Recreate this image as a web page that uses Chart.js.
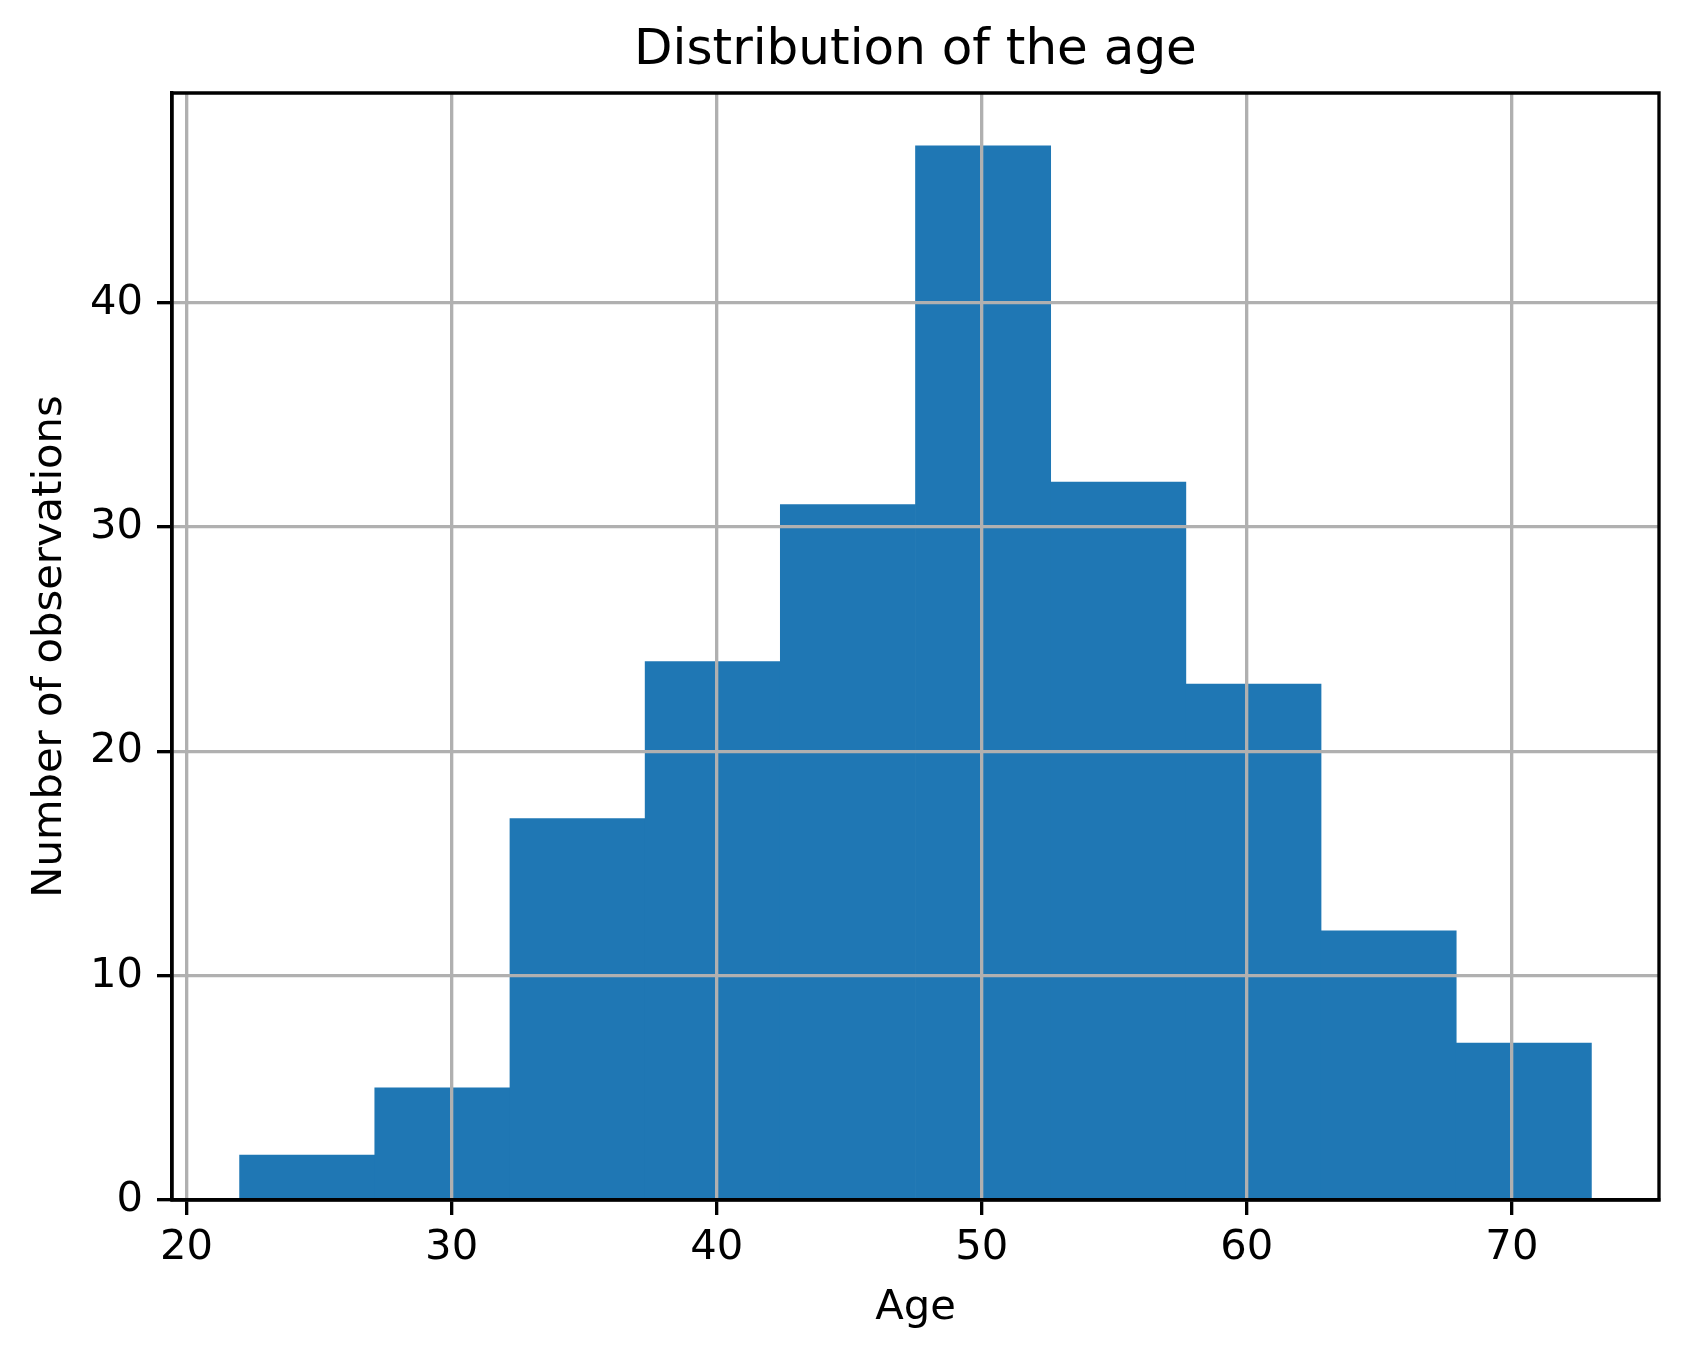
<!DOCTYPE html>
<html>
<head>
<meta charset="utf-8">
<script src="https://cdn.jsdelivr.net/npm/chart.js@4"></script>
<style>
  html, body { margin: 0; padding: 0; background: #ffffff; }
  #wrap { width: 1688px; height: 1361px; }
  canvas { display: block; }
</style>
</head>
<body>
<div id="wrap"><canvas id="c" width="1688" height="1361"></canvas></div>
<script>
// ---- data ----
const binEdges = [22, 27.1, 32.2, 37.3, 42.4, 47.5, 52.6, 57.7, 62.8, 67.9, 73];
const counts   = [2, 5, 17, 24, 31, 47, 32, 23, 12, 7];
const xTicks   = [20, 30, 40, 50, 60, 70];
const yTicks   = [0, 10, 20, 30, 40];
const titleText  = "Distribution of the age";
const xAxisLabel = "Age";
const yAxisLabel = "Number of observations";

// axis limits like matplotlib's 5% margins
const span = binEdges[binEdges.length - 1] - binEdges[0];
const xMin = binEdges[0] - 0.05 * span;
const xMax = binEdges[binEdges.length - 1] + 0.05 * span;
const yMax = Math.max(...counts) * 1.05;

const points = counts.map((c, i) => ({ x: (binEdges[i] + binEdges[i + 1]) / 2, y: c }));

const FONT = "DejaVu Sans";
const LW = 3.33;

const framePlugin = {
  id: 'frame',
  afterDraw(chart) {
    const { ctx, chartArea: a } = chart;
    ctx.save();
    ctx.strokeStyle = '#000';
    ctx.lineWidth = LW;
    ctx.lineCap = 'square';
    ctx.beginPath();
    ctx.moveTo(a.left, a.top);
    ctx.lineTo(a.right, a.top);
    ctx.lineTo(a.right, a.bottom);
    ctx.moveTo(a.left, a.top);
    ctx.lineTo(a.left, a.bottom);
    ctx.lineTo(a.right, a.bottom);
    ctx.stroke();
    ctx.restore();
  }
};

new Chart(document.getElementById('c'), {
  type: 'bar',
  data: {
    datasets: [{
      data: points,
      backgroundColor: '#1f77b4',
      borderWidth: 0,
      barPercentage: 1.0,
      categoryPercentage: 1.0,
      grouped: false
    }]
  },
  options: {
    responsive: false,
    animation: false,
    devicePixelRatio: 1,
    layout: { padding: { left: 0, right: 29, top: 0, bottom: 0 } },
    plugins: {
      legend: { display: false },
      tooltip: { enabled: false },
      title: {
        display: true,
        fullSize: false,
        text: titleText,
        color: '#000',
        font: { family: FONT, size: 50, weight: 'normal' },
        padding: { top: 21, bottom: 12 }
      }
    },
    scales: {
      x: {
        type: 'linear',
        position: 'bottom',
        min: xMin,
        max: xMax,
        offset: false,
        afterBuildTicks: s => { s.ticks = xTicks.map(v => ({ value: v })); },
        afterFit: s => { s.height = 161; },
        grid: {
          offset: false,
          color: '#b0b0b0',
          lineWidth: LW,
          tickColor: '#000',
          tickLength: 15,
          tickWidth: LW,
          z: 1
        },
        border: { display: true, color: '#000', width: LW, z: 2 },
        ticks: {
          color: '#000',
          font: { family: FONT, size: 41.7 },
          padding: 8,
          maxRotation: 0,
          autoSkip: false,
          callback: v => String(v)
        },
        title: {
          display: true,
          text: xAxisLabel,
          color: '#000',
          font: { family: FONT, size: 41.7 },
          padding: { top: 0, bottom: 28 }
        }
      },
      y: {
        type: 'linear',
        position: 'left',
        min: 0,
        max: yMax,
        afterBuildTicks: s => { s.ticks = yTicks.map(v => ({ value: v })); },
        afterFit: s => { s.width = 172; },
        grid: {
          color: '#b0b0b0',
          lineWidth: LW,
          tickColor: '#000',
          tickLength: 15,
          tickWidth: LW,
          z: 1
        },
        border: { display: true, color: '#000', width: LW, z: 2 },
        ticks: {
          color: '#000',
          font: { family: FONT, size: 41.7 },
          padding: 14,
          autoSkip: false,
          callback: v => String(v)
        },
        title: {
          display: true,
          text: yAxisLabel,
          color: '#000',
          font: { family: FONT, size: 41.7 },
          padding: { top: 25, bottom: 0 }
        }
      }
    }
  },
  plugins: [framePlugin]
});
</script>
</body>
</html>
